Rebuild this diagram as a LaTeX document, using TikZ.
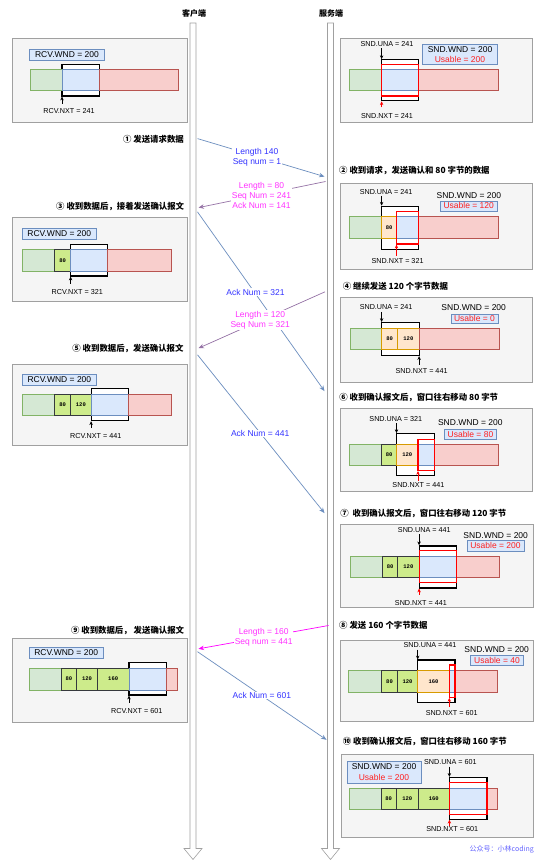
\documentclass[tikz,border=0pt]{standalone}
\usepackage{fontspec}
\setmainfont{Liberation Sans}
\setmonofont{Liberation Mono}
\newfontfamily\cjk{Noto Sans CJK SC}
\usetikzlibrary{arrows.meta}
\definecolor{panelfill}{HTML}{F5F5F5}
\definecolor{panelline}{HTML}{A0A0A0}
\definecolor{gfill}{HTML}{D5E8D4}
\definecolor{gline}{HTML}{82B366}
\definecolor{bfill}{HTML}{DAE8FC}
\definecolor{bline}{HTML}{6C8EBF}
\definecolor{rfill}{HTML}{F8CECC}
\definecolor{rline}{HTML}{B85450}
\definecolor{ofill}{HTML}{FFE6CC}
\definecolor{oline}{HTML}{D79B00}
\definecolor{lgfill}{HTML}{CDEB8B}
\definecolor{lgline}{HTML}{36393D}
\definecolor{msgblue}{HTML}{6C8EBF}
\definecolor{msgpurple}{HTML}{9673A6}
\definecolor{msgmag}{HTML}{FF00FF}
\definecolor{txtblue}{HTML}{3333FF}
\definecolor{txtmag}{HTML}{FF33FF}
\definecolor{usred}{HTML}{FF2020}
\definecolor{wmblue}{HTML}{6666FF}
\definecolor{lifegray}{HTML}{A0A0A0}
\tikzset{
  panel/.style={fill=panelfill, draw=panelline, line width=0.7pt},
  gcell/.style={fill=gfill, draw=gline, line width=0.7pt},
  bcell/.style={fill=bfill, draw=bline, line width=0.7pt},
  rcell/.style={fill=rfill, draw=rline, line width=0.7pt},
  ocell/.style={fill=ofill, draw=oline, line width=0.7pt},
  lgcell/.style={fill=lgfill, draw=lgline, line width=0.7pt},
  winrect/.style={fill=white, draw=black, line width=1.2pt},
  usrect/.style={draw=red, line width=1.1pt},
  wndbox/.style={fill=bfill, draw=bline, line width=0.6pt},
  lbl/.style={font=\fontsize{7.2}{8}\selectfont, inner sep=0pt},
  wndlbl/.style={font=\fontsize{8.5}{10}\selectfont, inner sep=0pt},
  uslbl/.style={font=\fontsize{8.5}{10}\selectfont, inner sep=0pt, text=usred},
  ctext/.style={font=\fontsize{5.5}{6}\ttfamily\bfseries, inner sep=0pt},
  ptr/.style={-{Stealth[length=3.8pt,width=3.4pt]}, line width=0.5pt},
  redptr/.style={ptr, draw=red, -{Stealth[length=3.8pt,width=3.4pt,fill=red]}},
  msg/.style={-{Stealth[length=5.5pt,width=4.5pt]}, line width=0.7pt},
  msglbl/.style={font=\fontsize{8.5}{10}\selectfont, fill=white, inner sep=0.6pt, align=center},
  headl/.style={font=\cjk\bfseries\fontsize{8.4}{10}\selectfont, inner sep=0pt, anchor=east},
  headr/.style={font=\cjk\bfseries\fontsize{8.4}{10}\selectfont, inner sep=0pt, anchor=west},
  title/.style={font=\cjk\bfseries\fontsize{8}{10}\selectfont, inner sep=0pt},
  lifeline/.style={fill=white, draw=lifegray, line width=0.6pt},
}
\begin{document}
\begin{tikzpicture}[x=1pt,y=-1pt]
\fill[white] (0,0) rectangle (545,866);
\useasboundingbox (0,0) rectangle (545,866);

% ---------- lifelines ----------
\node[title] (tc) at (194,13.5) {客户端};
\node[title] (ts) at (331,13.5) {服务端};
\draw[lifeline] (190,23) -- (196,23) -- (196,848.5) -- (202,848.5) -- (193,859.5) -- (184,848.5) -- (190,848.5) -- cycle;
\draw[lifeline] (327.5,23) -- (333.5,23) -- (333.5,848.5) -- (339.5,848.5) -- (330.5,859.5) -- (321.5,848.5) -- (327.5,848.5) -- cycle;

% ---------- L1 ----------
\draw[panel] (12,38.7) rectangle (187,122);
\draw[wndbox] (29.6,49.2) rectangle node[wndlbl] (l1w) {RCV.WND = 200} (104.3,60);
\draw[winrect] (62,64.9) rectangle (99.3,96);
\draw[gcell] (30.3,69.8) rectangle (62,90.8);
\draw[bcell] (62,69.8) rectangle (99.3,90.8);
\draw[rcell] (99.3,69.8) rectangle (178,90.8);
\coordinate (l1a) at (62,104); \coordinate (l1b) at (62,96.6);
\draw[ptr] (l1a) -- (l1b);
\node[lbl] (l1n) at (69,111.5) {RCV.NXT = 241};

% ---------- R1 ----------
\draw[panel] (340,38.7) rectangle (532,122);
\node[lbl] (r1u) at (387,44.3) {SND.UNA = 241};
\draw[wndbox] (422.6,44.3) rectangle (497.4,64.6);
\node[wndlbl] (r1w) at (460,49.6) {SND.WND = 200};
\node[uslbl] (r1us) at (460,59.6) {Usable = 200};
\draw[winrect] (381.6,59.7) rectangle (418.4,100.7);
\draw[gcell] (348.9,69.8) rectangle (381.6,90.8);
\draw[bcell] (381.6,69.8) rectangle (418.4,90.8);
\draw[rcell] (418.4,69.8) rectangle (498.1,90.8);
\draw[usrect] (381.6,64.6) rectangle (418.4,96);
\coordinate (r1ua) at (381.6,48.5); \coordinate (r1ub) at (381.6,59.1);
\draw[ptr] (r1ua) -- (r1ub);
\coordinate (r1na) at (381.6,107.5); \coordinate (r1nb) at (381.6,101.3);
\draw[redptr] (r1na) -- (r1nb);
\node[lbl] (r1n) at (387,116.4) {SND.NXT = 241};

% ---------- R2 ----------
\draw[panel] (340,183.4) rectangle (532,268.9);
\node[lbl] (r2u) at (386.1,191.6) {SND.UNA = 241};
\node[wndlbl] (r2w) at (468.9,195.5) {SND.WND = 200};
\draw[wndbox] (440,201) rectangle node[uslbl] (r2us) {Usable = 120} (497.4,210.9);
\draw[winrect] (381.6,206.3) rectangle (418.4,249.8);
\draw[gcell] (348.9,216.8) rectangle (381.6,238.8);
\draw[ocell] (381.6,216.8) rectangle node[ctext] (r2c1) {80} (396.5,238.8);
\draw[bcell] (396.5,216.8) rectangle (418.4,238.8);
\draw[rcell] (418.4,216.8) rectangle (498.1,238.8);
\draw[usrect] (396.5,211.9) rectangle (418.4,244);
\coordinate (r2ua) at (381.6,196) ; \coordinate (r2ub) at (381.6,205.7);
\draw[ptr] (r2ua) -- (r2ub);
\coordinate (r2na) at (396.5,255.8); \coordinate (r2nb) at (396.5,244.6);
\draw[redptr] (r2na) -- (r2nb);
\node[lbl] (r2n) at (397.6,260.6) {SND.NXT = 321};

% ---------- L3 ----------
\draw[panel] (12,217.8) rectangle (187,301.6);
\draw[wndbox] (21.9,228.3) rectangle node[wndlbl] (l3w) {RCV.WND = 200} (96.7,239);
\draw[winrect] (70.6,244.6) rectangle (107.8,276);
\draw[gcell] (21.9,249.8) rectangle (54.6,271.8);
\draw[lgcell] (54.6,249.8) rectangle node[ctext] (l3c1) {80} (70.6,271.8);
\draw[bcell] (70.6,249.8) rectangle (107.8,271.8);
\draw[rcell] (107.8,249.8) rectangle (171.1,271.8);
\coordinate (l3a) at (70.6,283.5); \coordinate (l3b) at (70.6,276.6);
\draw[ptr] (l3a) -- (l3b);
\node[lbl] (l3n) at (77.2,291.8) {RCV.NXT = 321};

% ---------- R4 ----------
\draw[panel] (340,297.7) rectangle (532,381.9);
\node[lbl] (r4u) at (386.1,307.2) {SND.UNA = 241};
\node[wndlbl] (r4w) at (473.7,307.2) {SND.WND = 200};
\draw[wndbox] (451,313.8) rectangle node[uslbl] (r4us) {Usable = 0} (498,323.6);
\draw[winrect] (381.6,322.6) rectangle (419.1,355.5);
\draw[gcell] (350.3,327.9) rectangle (381.6,349.8);
\draw[ocell] (381.6,327.9) rectangle node[ctext] (r4c1) {80} (397.6,349.8);
\draw[ocell] (397.6,327.9) rectangle node[ctext] (r4c2) {120} (419.1,349.8);
\draw[rcell] (419.1,327.9) rectangle (499.1,349.8);
\coordinate (r4ua) at (381.6,311.8); \coordinate (r4ub) at (381.6,322);
\draw[ptr] (r4ua) -- (r4ub);
\coordinate (r4na) at (419.1,364.5); \coordinate (r4nb) at (419.1,356.1);
\draw[ptr] (r4na) -- (r4nb);
\node[lbl] (r4n) at (421.6,370.7) {SND.NXT = 441};

% ---------- L5 ----------
\draw[panel] (12,364.2) rectangle (187,445);
\draw[wndbox] (22,374.7) rectangle node[wndlbl] (l5w) {RCV.WND = 200} (96.7,385.2);
\draw[winrect] (91.1,388.8) rectangle (128.7,420.6);
\draw[gcell] (22,394.3) rectangle (54.6,415.7);
\draw[lgcell] (54.6,394.3) rectangle node[ctext] (l5c1) {80} (70.6,415.7);
\draw[lgcell] (70.6,394.3) rectangle node[ctext] (l5c2) {120} (91.1,415.7);
\draw[bcell] (91.1,394.3) rectangle (128.7,415.7);
\draw[rcell] (128.7,394.3) rectangle (171.1,415.7);
\coordinate (l5a) at (91.1,428); \coordinate (l5b) at (91.1,421.2);
\draw[ptr] (l5a) -- (l5b);
\node[lbl] (l5n) at (95.7,436) {RCV.NXT = 441};

% ---------- R6 ----------
\draw[panel] (340,408.1) rectangle (532,491.1);
\node[lbl] (r6u) at (395.8,418.9) {SND.UNA = 321};
\node[wndlbl] (r6w) at (470.3,422.9) {SND.WND = 200};
\draw[wndbox] (444.2,429.4) rectangle node[uslbl] (r6us) {Usable = 80} (496.7,439.3);
\draw[winrect] (396.5,433.7) rectangle (434.8,475.7);
\draw[gcell] (349,444.2) rectangle (381.6,465.5);
\draw[lgcell] (381.6,444.2) rectangle node[ctext] (r6c1) {80} (396.5,465.5);
\draw[ocell] (396.5,444.2) rectangle node[ctext] (r6c2) {120} (418,465.5);
\draw[bcell] (418,444.2) rectangle (434.8,465.5);
\draw[rcell] (434.8,444.2) rectangle (498,465.5);
\draw[usrect] (418,439.6) rectangle (434.8,470.4);
\coordinate (r6ua) at (396.5,423.4); \coordinate (r6ub) at (396.5,433.1);
\draw[ptr] (r6ua) -- (r6ub);
\coordinate (r6na) at (418,480.5); \coordinate (r6nb) at (418,471);
\draw[redptr] (r6na) -- (r6nb);
\node[lbl] (r6n) at (418.4,485.5) {SND.NXT = 441};

% ---------- R7 ----------
\draw[panel] (340.5,523.9) rectangle (533,607.5);
\node[lbl] (r7u) at (424.3,530.2) {SND.UNA = 441};
\node[wndlbl] (r7w) at (495.7,535.1) {SND.WND = 200};
\draw[wndbox] (466.8,540.3) rectangle node[uslbl] (r7us) {Usable = 200} (524.2,550.8);
\draw[winrect] (419.1,545.9) rectangle (456.3,587.9);
\draw[gcell] (350.3,556.4) rectangle (382.6,577.7);
\draw[lgcell] (382.6,556.4) rectangle node[ctext] (r7c1) {80} (397.6,577.7);
\draw[lgcell] (397.6,556.4) rectangle node[ctext] (r7c2) {120} (419.1,577.7);
\draw[bcell] (419.1,556.4) rectangle (456.3,577.7);
\draw[rcell] (456.3,556.4) rectangle (499.1,577.7);
\draw[usrect] (419.1,550.8) rectangle (456.3,582.6);
\coordinate (r7ua) at (419.1,534.2); \coordinate (r7ub) at (419.1,545.3);
\draw[ptr] (r7ua) -- (r7ub);
\coordinate (r7na) at (419.1,594.5); \coordinate (r7nb) at (419.1,588.5);
\draw[redptr] (r7na) -- (r7nb);
\node[lbl] (r7n) at (420.9,602.6) {SND.NXT = 441};

% ---------- L9 ----------
\draw[panel] (12,638.6) rectangle (187,722.7);
\draw[wndbox] (29,647.3) rectangle node[wndlbl] (l9w) {RCV.WND = 200} (103.3,658.3);
\draw[winrect] (129,662.7) rectangle (166.7,695);
\draw[gcell] (29,668.3) rectangle (61,690);
\draw[lgcell] (61,668.3) rectangle node[ctext] (l9c1) {80} (76.7,690);
\draw[lgcell] (76.7,668.3) rectangle node[ctext] (l9c2) {120} (97.3,690);
\draw[lgcell] (97.3,668.3) rectangle node[ctext] (l9c3) {160} (129,690);
\draw[bcell] (129,668.3) rectangle (166.7,690);
\draw[rcell] (166.7,668.3) rectangle (177.3,690);
\coordinate (l9a) at (129,702.8); \coordinate (l9b) at (129,695.6);
\draw[ptr] (l9a) -- (l9b);
\node[lbl] (l9n) at (136.7,711) {RCV.NXT = 601};

% ---------- R8 ----------
\draw[panel] (340.5,640.7) rectangle (533,721.7);
\node[lbl] (r8u) at (430,645.2) {SND.UNA = 441};
\node[wndlbl] (r8w) at (496.7,649.5) {SND.WND = 200};
\draw[wndbox] (470.7,655) rectangle node[uslbl] (r8us) {Usable = 40} (523.3,665);
\draw[winrect] (417.7,660) rectangle (455,702.3);
\draw[gcell] (348.3,670.7) rectangle (381.7,692.3);
\draw[lgcell] (381.7,670.7) rectangle node[ctext] (r8c1) {80} (397.3,692.3);
\draw[lgcell] (397.3,670.7) rectangle node[ctext] (r8c2) {120} (417.7,692.3);
\draw[ocell] (417.7,670.7) rectangle node[ctext] (r8c3) {160} (449.3,692.3);
\draw[bcell] (449.3,670.7) rectangle (455,692.3);
\draw[rcell] (455,670.7) rectangle (497.3,692.3);
\draw[usrect] (449.3,665) rectangle (455,697.3);
\coordinate (r8ua) at (417.7,649.6); \coordinate (r8ub) at (417.7,659.4);
\draw[ptr] (r8ua) -- (r8ub);
\coordinate (r8na) at (449.3,706.5); \coordinate (r8nb) at (449.3,697.9);
\draw[redptr] (r8na) -- (r8nb);
\node[lbl] (r8n) at (451.7,712.7) {SND.NXT = 601};

% ---------- R10 ----------
\draw[panel] (341,753.9) rectangle (533,837.5);
\draw[wndbox] (347,761.1) rectangle (420.9,783.1);
\node[wndlbl] (r10w) at (384,766.9) {SND.WND = 200};
\node[uslbl] (r10us) at (384,777.5) {Usable = 200};
\node[lbl] (r10u) at (450.4,762.1) {SND.UNA = 601};
\draw[winrect] (449.4,777.5) rectangle (487,819.2);
\draw[gcell] (348.9,788) rectangle (380.9,809.3);
\draw[lgcell] (380.9,788) rectangle node[ctext] (r10c1) {80} (396.5,809.3);
\draw[lgcell] (396.5,788) rectangle node[ctext] (r10c2) {120} (418,809.3);
\draw[lgcell] (418,788) rectangle node[ctext] (r10c3) {160} (449.4,809.3);
\draw[bcell] (449.4,788) rectangle (487,809.3);
\draw[rcell] (487,788) rectangle (497.4,809.3);
\draw[usrect] (449.4,782.5) rectangle (487,814.3);
\coordinate (r10ua) at (449.4,766.6); \coordinate (r10ub) at (449.4,776.9);
\draw[ptr] (r10ua) -- (r10ub);
\coordinate (r10na) at (449.4,826); \coordinate (r10nb) at (449.4,819.8);
\draw[redptr] (r10na) -- (r10nb);
\node[lbl] (r10n) at (452.2,829.2) {SND.NXT = 601};

% ---------- headings ----------
\node[headl] (h1) at (184,139.8) {① 发送请求数据};
\node[headr] (h2) at (339,170.2) {② 收到请求，发送确认和 80 字节的数据};
\node[headl] (h3) at (184.3,207) {③ 收到数据后，接着发送确认报文};
\node[headr] (h4) at (342.6,286.6) {④ 继续发送 120 个字节数据};
\node[headl] (h5) at (183.7,348.2) {⑤ 收到数据后，发送确认报文};
\node[headr] (h6) at (339.1,397.6) {⑥ 收到确认报文后，窗口往右移动 80 字节};
\node[headr] (h7) at (340.2,513.8) {⑦\ \ 收到确认报文后，窗口往右移动 120 字节};
\node[headr] (h8) at (339,625.5) {⑧ 发送 160 个字节数据};
\node[headl] (h9) at (184.3,630.4) {⑨ 收到数据后， 发送确认报文};
\node[headr] (h10) at (342.6,741.5) {⑩ 收到确认报文后，窗口往右移动 160 字节};

% ---------- messages ----------
\coordinate (c1) at (197.5,138.6); \coordinate (s1) at (324.5,176.6);
\coordinate (s2) at (325.5,181.5); \coordinate (c2) at (198.5,207.6);
\coordinate (c3) at (197.5,211.9); \coordinate (s3) at (324.5,391.1);
\coordinate (s4) at (325,291.8);   \coordinate (c4) at (198.5,348.2);
\coordinate (c5) at (197.5,354.8); \coordinate (s5) at (324.5,513.1);
\coordinate (s8) at (328.5,625.5); \coordinate (c8) at (198.5,648.8);
\coordinate (c9) at (197.5,651.7); \coordinate (s9) at (326.5,739.8);

\draw[msg, msgblue] (c1) -- (s1);
\draw[msg, msgpurple] (s2) -- (c2);
\draw[msg, msgblue] (c3) -- (s3);
\draw[msg, msgpurple] (s4) -- (c4);
\draw[msg, msgblue] (c5) -- (s5);
\draw[msg, msgmag] (s8) -- (c8);
\draw[msg, msgblue] (c9) -- (s9);

\node[msglbl, text=txtblue] (m1) at (257,157.8) {Length 140\\Seq num = 1};
\node[msglbl, text=txtmag] (m2) at (261.5,195.3) {Length = 80\\Seq Num = 241\\Ack Num = 141};
\node[msglbl, text=txtblue] (m3) at (255.5,292) {Ack Num = 321};
\node[msglbl, text=txtmag] (m4) at (260.2,320) {Length = 120\\Seq Num = 321};
\node[msglbl, text=txtblue] (m5) at (260.2,433.7) {Ack Num = 441};
\node[msglbl, text=txtmag] (m8) at (263.7,636.8) {Length = 160\\Seq num = 441};
\node[msglbl, text=txtblue] (m9) at (261.9,695.3) {Ack Num = 601};

% ---------- watermark ----------
\node[font=\cjk\fontsize{7}{8}\selectfont, text=wmblue, inner sep=0pt, anchor=east] (wm) at (534,849) {公众号：小林coding};
\end{tikzpicture}
\end{document}
